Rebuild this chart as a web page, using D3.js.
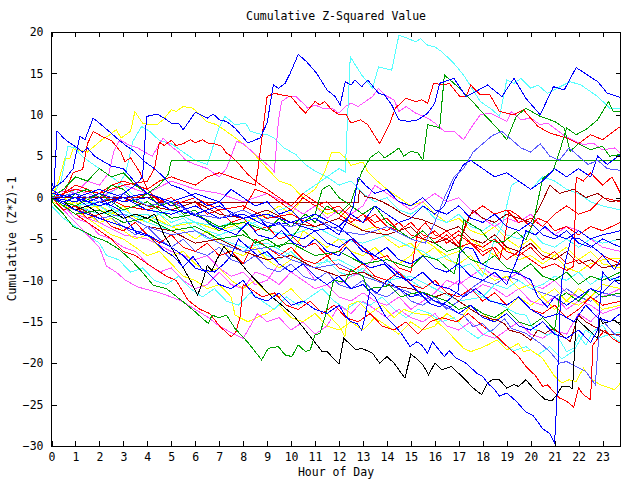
<!DOCTYPE html>
<html><head><meta charset="utf-8">
<script src="https://cdn.jsdelivr.net/npm/d3@7"></script>
<style>
body{margin:0;background:#fff}
text{font-family:"DejaVu Sans Mono",monospace;font-size:11.5px;fill:#000}
</style>
</head><body>
<svg id="chart" width="640" height="480"></svg>
<script>
const chartTitle = "Cumulative Z-Squared Value";
const xLabel = "Hour of Day";
const yLabel = "Cumulative (Z*Z)-1";
const xTicks = d3.range(0, 24);
const yTicks = [-30, -25, -20, -15, -10, -5, 0, 5, 10, 15, 20];

// each series: [hour, cumulative value]
const s01 = [[0,1],[0.5,0],[1,0.5],[1.5,-0.5],[2,0],[2.5,-1],[3,0.5],[3.5,1.5],[3.8,2.5],[3.97,9.8],[4.4,10.1],[4.7,9.6],[5.0,9.0],[5.3,9.0],[5.5,8.2],[6.0,10.3],[6.5,9.6],[6.75,10.1],[7.0,9.4],[7.3,9.2],[7.66,8.4],[8.2,6.6],[8.7,7.2],[9.0,9.0],[9.26,13.6],[9.47,13.2],[9.75,13.8],[9.96,15.0],[10.3,17.3],[10.65,16.4],[11.07,15.0],[11.5,13.0],[11.84,12.2],[12.05,11.2],[12.26,14.0],[12.5,13.6],[12.67,14.2],[12.95,13.4],[13.2,14.2],[13.65,12.6],[13.9,12.4],[14.2,11.2],[14.5,9.4],[14.9,9.2],[15.3,9.4],[15.7,10.2],[16.0,11.4],[16.2,13.8],[16.8,14.4],[17.3,12.2],[17.7,12.8],[18.2,13.6],[18.8,12.2],[19.3,14.4],[19.8,12.0],[20.4,10.0],[20.95,13.4],[21.4,13.0],[21.9,15.7],[22.8,14.0],[23.2,12.6],[23.75,12.1]];
const s02 = [[0,0],[0.5,-0.5],[1,-1.5],[1.5,-1],[2,-1],[2.5,-2],[3,-2.5],[3.5,-2],[4,-2],[4.5,-3],[5,-3.5],[5.5,-3],[6,-3],[6.5,-4],[7,-4.5],[7.5,-4],[8,-3.5],[8.5,-3],[9,-2.5],[9.5,-1.5],[10,-1],[10.5,0.5],[11,1.5],[11.5,2.5],[12.0,3.5],[12.26,3.1],[12.47,17.0],[12.95,14.8],[13.4,13.2],[13.65,15.8],[14.2,15.4],[14.5,19.6],[14.9,19.2],[15.2,18.8],[15.4,19.2],[15.7,18.4],[16.0,18.2],[16.3,17.6],[16.8,16.2],[17.2,14.8],[17.9,11.6],[18.4,10.6],[18.7,9.8],[19.0,14.2],[19.3,13.8],[19.6,14.4],[20.0,13.2],[20.3,13.6],[20.7,12.6],[21.1,13.2],[21.65,14.0],[22.1,13.6],[22.8,12.2],[23.3,10.8],[23.75,10.8]];
const s03 = [[0,0],[0.5,0.5],[1,1.5],[1.5,1],[2,0.5],[2.5,1.5],[3,2],[3.5,1.5],[4,1],[4.5,2],[5,2.5],[5.5,2],[6,1.5],[6.5,2.5],[7,3],[7.5,2.5],[8,2],[8.5,1.5],[8.6,3],[9.0,12.2],[9.3,12.6],[9.6,12.4],[10.0,12.2],[10.4,10.8],[10.6,10.2],[11.0,11.6],[11.2,11.2],[11.4,11.6],[11.7,10.6],[12.0,10.0],[12.3,10.0],[12.5,9.0],[12.9,9.4],[13.2,8.8],[13.7,6.5],[14.1,8.8],[14.35,10.8],[14.8,12.0],[15.2,11.6],[15.45,11.8],[15.7,11.4],[15.95,13.8],[16.4,13.6],[16.6,13.8],[17.05,12.2],[17.3,12.2],[17.5,13.6],[17.9,12.4],[18.3,12.4],[18.7,10.4],[19.3,10.0],[19.7,10.6],[20.3,8.6],[20.8,7.8],[21.5,7.2],[22,6.5],[22.5,7.6],[23,7.0],[23.75,8.6]];
const s04 = [[0,0.5],[0.5,0.3],[0.9,3.0],[1.3,3.4],[1.5,6.5],[1.74,8.0],[2.1,7.4],[2.5,6.9],[2.9,5.5],[3.06,4.35],[3.3,4.8],[3.7,3.0],[4.0,1.0],[4.5,-0.5],[5,0],[5.5,-1],[6,-0.5],[6.5,-2],[7,-1.5],[7.5,-3],[8,-2.5],[8.5,-4],[9,-3.5],[9.5,-5],[10,-4.5],[10.5,-6],[11,-5.5],[11.5,-7],[12,-6.5],[12.5,-5],[13,-6],[13.5,-7.5],[14,-7],[14.5,-8.5],[15,-9],[15.3,-4],[15.6,-3],[16,-4.5],[16.5,-5],[17,-4],[17.5,-5.5],[18,-6],[18.5,-5],[19,-6.5],[19.5,-7],[20,-6],[20.5,-7.5],[21,-6.5],[21.5,-8],[22,-7.5],[22.5,-8.5],[23,-7],[23.75,-8]];
const s05 = [[0,0],[0.3,2],[0.55,4.7],[0.76,4.7],[0.9,5.9],[1.5,5.5],[2.15,7.1],[2.4,7.5],[2.7,8.2],[2.9,7.2],[3.3,8.0],[3.48,10.4],[3.8,9.0],[4.1,8.8],[4.4,8.8],[4.66,9.4],[5.0,10.6],[5.2,10.4],[5.5,11.0],[5.9,10.8],[6.47,9.2],[6.9,8.8],[7.3,8.0],[7.87,6.8],[8.2,6.0],[8.6,4.8],[9.0,3.5],[9.5,2],[10,1.5],[10.5,0],[11,-1],[11.5,-2],[12,-1.5],[12.5,-3],[13,-4],[13.5,-3.5],[14,-5],[14.5,-6],[15,-5.5],[15.5,-7],[16,-6],[16.5,-7.5],[17,-8],[17.5,-7],[18,-9],[18.5,-10],[19,-9.5],[19.5,-11],[20,-10.5],[20.5,-12],[21,-11],[21.5,-12.5],[22,-13],[22.5,-12],[23,-13.5],[23.75,-13]];
const s06 = [[0,0],[0.4,2],[0.69,6.2],[1.0,6.0],[1.2,5.2],[1.5,4.5],[2,3.5],[2.5,2.5],[3,1.5],[3.5,0],[4,-1],[4.5,-2],[5,-3],[5.5,-2.5],[6,-4],[6.5,-5],[7,-4.5],[7.5,-6],[8,-6.5],[8.5,-5.5],[9,-7],[9.5,-7.5],[10,-6.5],[10.5,-8],[11,-8.5],[11.5,-7.5],[12,-9],[12.5,-9.5],[13,-8.5],[13.5,-10],[14,-10.5],[14.5,-9],[15,-10],[15.5,-11],[16,-10],[16.5,-11.5],[17,-12],[17.5,-11],[18,-12],[18.5,-10.5],[19,-11],[19.5,-10],[20,-11],[20.5,-10.5],[21,-9.5],[21.5,-10],[22,-9],[22.5,-10.5],[23,-9.5],[23.75,-10]];
const s07 = [[0,0.5],[0.5,0],[1,1],[1.5,0.5],[2,0],[2.4,0.5],[2.7,1],[3.1,3],[3.4,6.8],[3.76,8.6],[4.1,8.0],[4.5,6.9],[5,6.5],[5.5,5.5],[6,4.5],[6.5,4.0],[7.0,8.5],[7.24,9.8],[7.5,9.2],[7.66,8.8],[8.1,9.0],[8.3,8.0],[8.8,7.6],[9.0,7.6],[9.3,7.2],[9.7,6.0],[10.2,5.2],[10.6,4.0],[11.0,3.2],[11.5,2.5],[12,1.5],[12.5,2],[13,0.5],[13.5,-0.5],[14,0],[14.5,-1.5],[15,-2],[15.5,-1],[16,-2.5],[16.5,-3],[17,-2],[17.5,-3.5],[18,-4],[18.5,-3],[19,-4.5],[19.5,-5],[20,-4],[20.5,-5.5],[21,-6],[21.5,-5],[22,-6],[22.5,-5],[23,-5.5],[23.75,-5]];
const s08 = [[0,2],[0.1,1],[0.23,8.05],[0.5,7.2],[0.76,6.6],[1.04,6.1],[1.3,5.5],[1.5,6],[1.8,5],[2.2,4.3],[2.5,3.8],[3,3.5],[3.3,2.5],[3.6,1.5],[4,0.5],[4.5,0],[5,-1],[5.3,-0.5],[5.8,-2],[6.3,-2.5],[6.8,-3.5],[7.3,-4],[7.7,-4.5],[8.2,-3],[8.6,-4.5],[9.2,-5],[9.6,-4],[10.1,-5.5],[10.6,-6],[11,-5],[11.5,-6.5],[12,-7],[12.3,-6],[12.8,-7.5],[13.3,-8.5],[13.9,-8],[14.4,-9.5],[15,-10],[15.5,-9],[16,-10.5],[16.6,-11],[17.2,-12],[17.7,-11],[18.3,-12.5],[19,-13],[19.5,-12],[20,-13.5],[20.6,-14.5],[21.2,-14],[21.8,-15],[22.3,-13],[22.8,-14.5],[23.3,-15],[23.75,-14]];
const s09 = [[0,1],[0.5,2],[0.9,3.5],[1.18,7.4],[1.4,7.0],[1.74,9.6],[2.0,9.0],[2.4,8.0],[2.8,7.0],[3.1,6.3],[3.5,5.5],[3.9,4.3],[4.3,3.5],[4.6,2.7],[5,1.5],[5.5,1],[6,0],[6.5,-1],[7,-0.5],[7.5,-2],[8,-2.5],[8.5,-2],[9,-3.5],[9.5,-3],[10,-4.5],[10.5,-5],[11,-4],[11.5,-5.5],[12,-6],[12.5,-5],[13,-6.5],[13.5,-7],[14,-6],[14.5,-7.5],[15,-8],[15.5,-7],[16,-8.5],[16.5,-9],[17,-8],[17.5,-9.5],[18,-10],[18.5,-9],[19,-10.5],[19.5,-7],[19.8,-4],[20.2,-4.5],[20.6,-3.5],[21,-4.5],[21.5,-5],[22,-4],[22.5,-5],[23,-4.5],[23.75,-4]];
const s10 = [[0,0],[1,-1],[2,0.5],[3,-1.5],[4,-0.5],[5,-2.5],[6,-2],[7,-3.5],[8,-3],[9,-4],[9.5,-2.5],[10,-3.5],[10.6,-2],[11,-3],[11.5,-1],[12,-2],[12.5,-0.5],[12.95,3.1],[13.3,4.8],[13.65,5.55],[13.9,4.8],[14.2,5.35],[14.5,6.0],[14.7,5.0],[15.0,5.6],[15.3,5.4],[15.5,4.5],[15.7,8.8],[16.0,8.6],[16.2,8.4],[16.4,14.8],[16.8,13.8],[17.3,12.4],[17.7,11.2],[18.2,9.6],[18.6,8.4],[19.0,7.0],[19.4,9.8],[19.8,10.8],[20.4,9.8],[21.0,9.2],[21.4,8.4],[21.65,5.6],[22,6.5],[22.5,5.8],[23,6.2],[23.3,5.0],[23.75,5.2]];
const s11 = [[0,0],[1,-2],[2,-1.5],[3,-3],[4,-2.5],[5,-4],[6,-3.5],[7,-5],[8,-4.5],[9,-6],[10,-5.5],[11,-7],[12,-6.5],[13,-8],[14,-7.5],[15,-8.5],[15.5,-7],[16.1,-7.5],[16.5,-8.5],[16.8,-9.2],[17.05,-6.3],[17.2,-2.7],[17.5,-3.2],[17.9,-3.9],[18.25,-5.1],[18.6,-5.4],[18.9,-5.3],[19.4,-4.1],[19.8,-5.1],[20.1,-3.1],[20.5,2.3],[20.95,3.3],[21.2,5.5],[21.5,8.4],[21.9,7.6],[22.3,8.2],[22.8,9.4],[23.25,11.6],[23.45,10.4],[23.75,10.4]];
const s12 = [[0,0],[0.5,1],[1,0.5],[1.5,2],[2,1.5],[2.4,3],[2.6,5.6],[2.86,7.0],[3.2,6.4],[3.6,6.0],[4.2,5.0],[4.66,7.2],[4.9,6.4],[5.3,5.5],[5.6,4.5],[6,4],[6.5,3.5],[7,2.5],[7.3,3.5],[7.73,6.8],[8.0,6.5],[8.4,5.5],[8.8,4.5],[9.2,3.5],[9.3,3.1],[9.47,9.2],[9.6,11.6],[9.9,12.2],[10.2,12.2],[10.5,11.4],[10.7,10.8],[11.0,11.2],[11.3,10.8],[11.7,10.8],[12.0,10.2],[12.26,11],[12.5,11.4],[12.8,11],[13.4,12.2],[13.65,13.2],[13.9,12.4],[14.3,11.8],[14.5,10.4],[14.8,11.0],[15.2,10.2],[15.7,9.6],[16,9.0],[16.4,8.0],[16.8,8.0],[17.2,7.0],[17.6,8.8],[17.9,10.0],[18.3,10.2],[18.6,9.8],[19.0,9.2],[19.2,10.4],[19.6,9.4],[20.0,9.6],[20.4,8.8],[20.7,9.0],[21.4,7.5],[21.8,6.9],[22.2,6.4],[22.6,6.6],[23.0,5.75],[23.5,6.0],[23.75,5.35]];
const s13 = [[0,0],[4.45,0],[4.46,-0.55],[12.8,-0.55],[12.85,0.9],[13.1,0.1],[13.5,-0.1],[13.8,-0.5],[14.2,-1.1],[14.6,-1.9],[14.9,-2.3],[15.5,-2.7],[16.0,-3.3],[16.5,-4],[17,-3.5],[17.5,-5],[18,-5.5],[18.5,-4.5],[19,-6],[19.5,-6.5],[20,-5.5],[20.5,-7],[21,-7.5],[21.5,-6.5],[22,-8],[22.5,-7.5],[23,-8.5],[23.75,-8]];
const s14 = [[0,0],[0.5,-1],[1,0.5],[1.5,1],[2,0],[2.5,1.5],[3,1],[3.5,-0.5],[4,0.5],[4.5,1.5],[4.87,2.8],[5.0,4.46],[23.75,4.46]];
const s15 = [[0,0],[0.5,-0.5],[1,0],[1.5,-1],[2,-0.5],[2.5,-1],[2.85,-1.5],[3.2,-3],[3.55,-4.3],[4.1,-4.7],[4.66,-6.3],[5.1,-7.1],[5.5,-8.4],[5.9,-7.1],[6.3,-8.7],[6.8,-9],[7.2,-8],[7.5,-7],[7.8,-5],[8.2,-6],[8.6,-7],[9,-6.5],[9.5,-8],[10,-9],[10.5,-8],[11,-9.5],[11.5,-10.5],[12,-9.5],[12.5,-11],[13,-10.5],[13.5,-12],[13.9,-14.2],[14.3,-15.4],[14.6,-16.4],[14.97,-18],[15.25,-17.4],[15.45,-17.8],[15.7,-18.8],[15.9,-17.4],[16.4,-19.2],[16.6,-18.5],[16.9,-19.4],[17.3,-20.0],[17.75,-21.2],[18.0,-21.6],[18.2,-22.4],[18.5,-23.2],[18.7,-24.0],[19.0,-23.6],[19.4,-24.6],[19.8,-25.9],[20.1,-26.3],[20.5,-27.9],[20.8,-28.5],[21.0,-29.6],[21.1,-24.0],[21.2,-15],[21.3,-10],[21.5,-7.1],[21.7,-4.9],[22.0,-4.9],[22.2,-5.3],[22.6,-6],[23.0,-6.9],[23.5,-8.7],[23.75,-7.5]];
const s16 = [[0,0],[0.5,-0.5],[1,-1.5],[1.5,-1],[2,-2],[2.5,-1.5],[3,-2.5],[3.5,-2],[4,-2.5],[4.3,-2],[4.7,-4.5],[5.1,-6.5],[5.5,-8.5],[5.8,-10],[6.1,-11.8],[6.3,-10.2],[6.5,-8.2],[6.7,-8.8],[6.9,-7.5],[7.2,-5.9],[7.5,-7],[7.7,-7.2],[8.2,-9],[8.7,-10.5],[9.2,-12],[9.7,-13.2],[10.1,-14.2],[10.86,-17.0],[11.3,-18.6],[11.5,-18.6],[12.0,-20.1],[12.2,-17.0],[12.5,-17.8],[12.7,-18.4],[12.95,-18.2],[13.4,-18.8],[13.7,-20.0],[14.0,-19.2],[14.3,-20.0],[14.75,-21.8],[15.0,-18.9],[15.3,-19.6],[15.5,-20.2],[15.74,-21.4],[16.0,-20.0],[16.3,-20.8],[16.7,-20.4],[17.2,-21.8],[17.6,-23.0],[17.95,-23.8],[18.2,-22.4],[18.4,-22.0],[18.7,-22.0],[19.0,-23.0],[19.3,-22.6],[19.5,-22.8],[19.8,-22.0],[20.1,-23.0],[20.6,-24.4],[20.9,-24.5],[21.1,-23.8],[21.3,-22.8],[21.6,-22.8],[21.75,-23.1],[21.9,-14.6],[22.35,-15.8],[22.8,-17.0],[22.9,-14.5],[23.0,-15.2],[23.5,-14.8],[23.75,-15.4]];
const s17 = [[0,0],[0.07,-0.7],[0.5,-2],[0.9,-3.5],[1.3,-4],[1.74,-4.7],[2.3,-5.3],[2.85,-6.3],[3.3,-7.5],[3.7,-8.7],[4.25,-10.6],[4.8,-11],[5.5,-12.6],[6.0,-13.8],[6.3,-14.6],[6.55,-15.2],[6.7,-14.2],[7.0,-14.5],[7.3,-14.2],[7.66,-15.8],[8.2,-17.5],[8.77,-19.6],[9.05,-18.2],[9.47,-18.0],[9.75,-19.0],[10.03,-19.2],[10.3,-17.8],[10.6,-18.6],[10.8,-18.4],[11.0,-16.6],[11.2,-16.4],[11.42,-14.4],[11.77,-10.0],[12.26,-10.2],[12.5,-8.7],[13.0,-9.5],[13.2,-11.2],[13.5,-10.8],[13.8,-10.8],[14.1,-10.6],[14.6,-12.0],[15.0,-11.6],[15.5,-11.4],[16.0,-12],[16.5,-12.5],[17,-13.5],[17.5,-13],[18,-14],[18.5,-14.5],[19,-13.5],[19.5,-15],[20,-15.5],[20.5,-14.5],[21,-16],[21.2,-12],[21.5,-11.5],[22,-12.5],[22.5,-11],[23,-12],[23.75,-11.5]];
const s18 = [[0,0],[0.5,-1.5],[1,-3],[1.5,-4.5],[2,-6],[2.3,-8.3],[2.7,-9],[3.1,-10],[3.6,-10.8],[4.4,-11.4],[5,-12],[5.5,-12.6],[6,-13.5],[6.5,-14.4],[7,-15.5],[7.5,-16.3],[8,-17],[8.3,-15.5],[8.6,-14],[9,-15],[9.5,-14.5],[10,-16],[10.5,-15],[11,-16.5],[11.5,-15.5],[12,-13],[12.5,-14],[13,-12.5],[13.5,-13.5],[14,-14.5],[14.5,-13.5],[15,-14.5],[15.5,-15],[16,-14],[16.5,-15.5],[17,-16],[17.5,-15],[18,-16.5],[18.5,-17],[19,-16],[19.5,-15],[20,-16.5],[20.5,-17],[21,-16],[21.5,-16.5],[22,-14],[22.5,-15],[23,-13.5],[23.75,-13]];
const s19 = [[0,0],[0.5,-1],[1,-2],[1.5,-3],[2,-4],[2.5,-5],[3,-6.5],[3.5,-7],[4,-8],[4.8,-9.5],[5.2,-10],[5.7,-12.4],[6.2,-13.5],[6.6,-14],[7.04,-15.6],[7.5,-16.8],[7.7,-16.2],[7.87,-14.4],[8.0,-10.5],[8.3,-11],[8.8,-12],[9.3,-11.5],[9.8,-13],[10.3,-13.5],[10.8,-12.5],[11.3,-14],[11.8,-13],[12.3,-14.5],[12.8,-15],[13.3,-14],[13.8,-15.5],[14.3,-16],[14.8,-15],[15.3,-16.5],[15.8,-15],[16.3,-14.5],[16.9,-15],[17.4,-14],[18,-15.5],[18.6,-16.8],[19.1,-18.2],[19.5,-19.2],[19.8,-20.4],[20.2,-21.5],[20.5,-22.8],[20.7,-22.6],[21.2,-24.2],[21.5,-24.6],[21.8,-25.3],[22.0,-23.0],[22.2,-23.8],[22.5,-24.4],[22.6,-17.8],[22.8,-17.0],[23.1,-16.0],[23.4,-17],[23.75,-17.6]];
const s20 = [[0,0],[0.5,-1],[1,-0.5],[1.5,-2],[2,-3],[2.5,-2.5],[3,-4],[3.5,-5],[4,-4.5],[4.5,-6],[5,-7],[5.5,-6.5],[6,-8],[6.5,-9],[7,-8.5],[7.5,-10],[8,-11],[8.5,-10],[9,-11.5],[9.5,-12],[10,-11],[10.5,-12.5],[11,-13.5],[11.5,-14],[12,-15.5],[12.25,-16.8],[12.4,-13],[12.8,-12.5],[13.3,-14],[13.8,-13],[14.3,-14.5],[14.7,-13.5],[15.2,-14],[15.8,-14.2],[16.4,-15.8],[17.2,-18.2],[17.5,-18.6],[17.9,-18.2],[18.2,-17.8],[18.6,-17.2],[19.0,-18.4],[19.5,-17.6],[19.7,-18.6],[20.0,-18.4],[20.5,-19.4],[20.95,-21.4],[21.3,-22.4],[21.6,-22.0],[21.9,-22.2],[22.2,-20.6],[22.5,-21.8],[22.9,-22.6],[23.3,-23.0],[23.5,-23.2],[23.75,-22.4]];
const s21 = [[0,0],[1,-1.5],[2,-2.5],[3,-2],[4,-3.5],[5,-4.5],[6,-4],[7,-5.5],[8,-6.5],[9,-6],[10,-7.5],[11,-8.5],[12,-8],[13,-9.5],[14,-10.5],[15,-11.5],[16,-12.5],[17,-14],[17.2,-14.2],[17.6,-15.6],[18.0,-15.2],[18.3,-16.2],[18.5,-15.8],[18.9,-14.6],[19.2,-15.8],[19.8,-16.4],[20.4,-17.6],[20.8,-18.6],[21.2,-20.0],[21.5,-19.8],[21.9,-20.4],[22.3,-21.0],[22.7,-22.6],[22.9,-14.5],[23.2,-15.5],[23.5,-16.5],[23.75,-16.8]];
const s22 = [[0,0],[1,-1],[2,-2.5],[3,-2],[4,-3.5],[5,-4],[6,-5.5],[7,-5],[8,-6.5],[9,-7.5],[10,-7],[11,-8.5],[12,-9.5],[13,-9],[14,-10.5],[15,-11],[16,-12],[16.5,-11.5],[17,-12.5],[17.5,-13.5],[17.9,-14.2],[18.3,-14.6],[18.6,-14.8],[18.9,-15.2],[19.1,-16.0],[19.6,-16.4],[20.0,-17.2],[20.3,-16.0],[20.6,-16.4],[20.95,-15.8],[21.3,-16.6],[21.65,-17.4],[21.8,-16],[22,-14.2],[22.3,-15],[22.8,-15.8],[23.3,-16.6],[23.75,-16.5]];
const s23 = [[0,0],[1,-1],[2,-2],[3,-1.5],[4,-3],[5,-4],[6,-3.5],[7,-5],[8,-6],[9,-5.5],[10,-7],[11,-8],[12,-7.5],[13,-9],[14,-10],[15,-9.5],[16,-11],[17,-12.5],[18,-12],[18.8,-13],[19.4,-14],[19.8,-14.2],[20.1,-15.8],[20.7,-16.6],[21.0,-16.2],[21.5,-18.6],[21.8,-18.2],[22.0,-16.6],[22.3,-17.8],[22.6,-16.2],[23.0,-15.4],[23.3,-16.6],[23.75,-16.2]];
const s24 = [[0,0],[0.5,-1],[1,-2.5],[1.5,-3],[2,-4.5],[2.5,-5],[3,-6],[3.5,-6.5],[4,-8],[4.5,-9],[5,-8.5],[5.5,-10],[6,-11],[6.5,-10.5],[7,-9],[7.5,-10.5],[8,-11],[8.5,-9],[9,-9.5],[9.5,-10.5],[10,-9],[10.5,-8],[11,-10],[11.5,-9],[12,-10.5],[12.5,-9.5],[13,-9],[13.5,-7],[14,-8],[14.5,-9],[15,-10],[15.5,-9],[16,-10.5],[16.5,-11],[17,-10],[17.5,-11.5],[18,-10.5],[18.5,-11],[19,-12],[19.5,-11],[20,-12.5],[20.5,-13],[21,-12],[21.5,-13.5],[22,-12.5],[22.5,-13],[23,-14],[23.75,-13.2]];
const s25 = [[0,0.5],[0.5,0],[1,-1],[1.5,0],[2,-1.5],[2.5,-2],[3,-1],[3.5,-2.5],[4,-3],[4.5,-2],[5,-3.5],[5.5,-4],[6,-5],[6.5,-4],[7,-5.5],[7.5,-6.5],[8,-7],[8.5,-6],[9,-7.5],[9.5,-8.5],[10,-7.5],[10.5,-4],[11,-5],[11.5,-6],[12,-5],[12.5,-6.5],[13,-7],[13.5,-6],[14,-7.5],[14.5,-8],[15,-7],[15.5,-5],[16,-6],[16.5,-7],[17,-6.5],[17.5,-5],[18,-6],[18.5,-7],[19,-6],[19.5,-7.5],[20,-7],[20.5,-8],[21,-7],[21.5,-8.5],[22,-9],[22.5,-8],[23,-7.5],[23.75,-7.3]];
const s26 = [[0,-0.5],[1,-1.5],[2,-1],[3,-2.5],[4,-2],[5,-3.5],[6,-3],[7,-4],[8,-3],[9,-2],[9.5,-1],[10,-2],[10.5,0],[11,1],[11.4,3.1],[11.7,5.5],[12.0,5.5],[12.3,4.7],[12.5,3.9],[13,4.3],[13.2,3.1],[13.6,2],[14,1],[14.5,0],[15,-1],[15.5,-0.5],[16,-2],[16.5,-3],[17,-2.5],[17.5,-4],[18,-4.5],[18.5,-3.5],[19,-5],[19.5,-6],[20,-5],[20.5,-6.5],[21,-7],[21.5,-6],[22,-7.5],[22.5,-6.5],[23,-8],[23.75,-8.5]];
const s27 = [[0,0],[1,-0.5],[2,0.5],[3,-0.5],[4,0.5],[5,-1],[6,0],[7,-1.5],[8,-1],[9,-2.5],[10,-2],[11,-3.5],[12,-2.5],[12.5,-1],[13,-2],[13.5,-3],[14,-2.5],[14.5,-4],[15,-3.5],[15.5,-5],[16,-5.5],[16.5,-4.5],[17,-6],[17.5,-5.5],[18,-7],[18.5,-6],[19,-7.5],[19.5,-6.5],[20,-7.5],[20.5,-8.5],[21,-8],[21.5,-8.8],[21.8,-8.3],[21.9,2.5],[22.2,2.0],[22.5,3.0],[23,1.5],[23.4,2.5],[23.75,0.5]];
const s28 = [[0,0],[1,-0.5],[2,0.5],[3,-1],[4,-1.5],[5,-0.5],[6,-2],[7,-2.5],[8,-1.5],[8.5,1],[9,0.5],[9.5,-0.5],[10,-1.5],[10.5,0],[11,-1],[11.5,-0.5],[12,-2],[12.5,-3],[13,-2],[13.5,-3.5],[14,-4],[14.5,-3],[15,-4.5],[15.5,-5],[16,-4],[16.5,-5.5],[17,-4.5],[17.5,-5.5],[18,-6.5],[18.4,-6],[18.7,-7.5],[18.9,-5.2],[19.1,-1.5],[19.4,-2],[19.8,-3],[20.0,-3.5],[20.3,-2.5],[20.7,-3],[21.0,-4],[21.5,-3.5],[22,-4.5],[22.5,-3.5],[23,-4],[23.75,-3]];
const s29 = [[0,0],[1,0.5],[2,-0.5],[3,0],[4,-1],[5,-1.5],[6,-0.5],[7,-2],[8,-2.5],[9,-1.5],[10,-3],[11,-3.5],[12,-2.5],[13,-4],[14,-4.5],[15,-3.5],[15.5,-5],[16,-5.5],[16.5,-5],[17,-6],[17.3,-3],[17.6,-1.5],[18,-2.5],[18.5,-3],[19,-2],[19.5,-2.5],[20,-3],[20.4,-1],[20.8,1.5],[21.2,0.5],[21.8,1.0],[22.3,0],[22.8,0.5],[23.3,-0.5],[23.75,-0.3]];
const s30 = [[0,0],[1,-1],[2,-0.5],[3,-2],[4,-2.5],[5,-1.5],[6,-3],[7,-3.5],[8,-2.5],[9,-4],[10,-4.5],[11,-3.5],[12,-5],[13,-5.5],[14,-4.5],[15,-6],[15.5,-6.5],[16,-7.5],[16.5,-7],[17,-8.5],[17.5,-8],[18,-9.5],[18.5,-5],[18.8,-3.5],[19.2,1.5],[19.5,2],[20,1],[20.5,2.5],[21,2],[21.5,1],[22,0.5],[22.5,-0.5],[23,-1],[23.75,-1.5]];
const s31 = [[0,0.5],[1,0],[2,-1],[3,0],[4,-1.5],[5,-2],[6,-1],[7,-2.5],[8,-2],[9,-3.5],[10,-3],[11,-4],[12,-3.5],[13,-6],[14,-8],[15,-10.5],[15.8,-12.8],[16.2,-13.2],[16.6,-12.3],[17.0,-11.2],[17.05,-6.7],[17.3,-6.0],[17.6,-6.2],[17.9,-7.9],[18.3,-8.5],[18.9,-8.9],[19.4,-9.1],[20.0,-9.9],[20.3,-12],[20.7,-13.2],[21.0,-12],[21.5,-13],[22,-12],[22.5,-11],[23,-11.5],[23.5,-10],[23.75,-10.5]];
const s32 = [[0,0],[1,-0.5],[2,0.5],[3,-0.5],[4,0],[5,-1.5],[6,-2],[7,-1],[8,-2.5],[9,-2],[10,-3],[11,-2],[12,-3.5],[12.5,-2],[13,-3],[13.5,-1],[14,-2],[14.5,-3],[15,-2.5],[15.5,-1],[16,-2],[16.4,-1],[16.8,2],[17.2,4],[17.5,4.5],[18,3.5],[18.5,2.5],[19,3],[19.5,2],[20,1],[20.5,2],[21,3.5],[21.5,2.5],[22,3.5],[22.5,2.5],[22.8,5],[23.2,4],[23.75,5.2]];
const s33 = [[0,0],[1,0.5],[2,-0.5],[3,0.5],[4,-1],[5,-0.5],[6,-2],[7,-2.5],[8,-1.5],[9,-3],[10,-3.5],[11,-2.5],[12,-4],[13,-4.5],[14,-3.5],[15,-5],[15.6,-5.5],[16.0,-3],[16.4,0],[16.8,2.5],[17.2,3.5],[17.6,5.5],[18,6.5],[18.4,7.5],[18.8,8],[19.2,7],[19.6,6],[20,5.5],[20.4,6.5],[20.8,5],[21.2,4.5],[21.6,6],[22,5],[22.4,4],[22.8,4.5],[23.2,3.5],[23.75,3.3]];
const s34 = [[0,0],[0.5,-1],[1,-2],[1.5,-1.5],[2,-3],[2.5,-2.5],[3,-3.5],[3.5,-4.5],[4,-3.5],[4.5,-5],[5,-6],[5.5,-5],[6,-6.5],[6.5,-7],[7,-6],[7.5,-7.5],[8,-8],[8.5,-7],[9,-8.5],[9.5,-9],[10,-8],[10.5,-9.5],[11,-10],[11.5,-9],[12,-10.5],[12.5,-11],[13,-10],[13.5,-11.5],[14,-12],[14.5,-11],[15,-12.5],[15.5,-13],[16,-12],[16.5,-13.5],[17,-12.5],[17.5,-11],[18,-10],[18.5,-10.5],[19,-9.5],[19.5,-10],[20,-11],[20.5,-11.5],[21,-12],[21.5,-11],[22,-12],[22.5,-12.5],[23,-11.5],[23.75,-12]];
const s35 = [[0,0],[0.5,-0.5],[1,-1.5],[1.5,-2.5],[2,-3.5],[2.5,-4.5],[3,-5],[3.5,-6],[4,-7],[4.5,-6.5],[5,-8],[5.5,-9.5],[6,-10],[6.5,-11],[7,-10.5],[7.5,-12],[7.66,-14.2],[8.2,-15],[8.77,-14.2],[9,-14],[9.5,-13],[10,-14.5],[10.5,-15],[11,-14],[11.5,-15.5],[12,-16],[12.5,-15],[13,-16],[13.5,-14.5],[14,-15.5],[14.5,-16.5],[15,-15],[15.5,-16],[16,-15.5],[16.5,-14],[17,-15],[17.5,-13],[18,-14],[18.5,-15],[19,-13.5],[19.5,-12],[20,-13],[20.5,-12],[21,-13.5],[21.5,-12.5],[22,-11],[22.5,-12],[23,-10.5],[23.75,-11]];
const s36 = [[0,-1],[0.5,-2.5],[1,-3.5],[1.5,-4.5],[2,-5.5],[2.3,-7],[2.8,-7.5],[3.3,-9],[3.8,-8.5],[4.3,-10],[4.8,-10.5],[5.3,-9.5],[5.8,-11],[6.3,-12],[6.8,-11],[7.3,-12.5],[7.8,-13],[8.3,-11.5],[8.8,-12.5],[9.3,-13.5],[9.8,-12],[10.3,-13],[10.8,-12],[11.3,-11],[11.8,-12.5],[12.3,-13.5],[12.8,-12.5],[13.3,-13],[13.8,-12],[14.3,-13.5],[14.8,-14.5],[15.3,-13.5],[15.8,-14],[16.3,-15],[16.8,-14.5],[17.3,-16],[17.8,-17],[18.3,-16],[18.8,-17.5],[19.3,-18.5],[19.8,-18],[20.3,-19],[20.8,-18],[21.3,-19.5],[21.8,-18.5],[22.3,-16],[22.8,-17],[23.3,-16.5],[23.75,-17.5]];
const s37 = [[0,0],[1,-1.5],[2,-2.5],[3,-3.5],[4,-4.5],[5,-6],[5.5,-7],[6,-8.5],[6.5,-9],[7,-10.5],[7.5,-11],[8,-10],[8.5,-12],[9,-12.5],[9.5,-11.5],[10,-13],[10.5,-12.5],[11,-13.5],[11.5,-14],[12,-13],[12.25,-14.2],[12.5,-15],[12.75,-15.2],[12.95,-16],[13.1,-14.2],[13.3,-11],[13.6,-11.5],[14,-10],[14.5,-11],[15,-12],[15.5,-11.5],[16,-12.5],[16.5,-13],[17,-14],[17.5,-13],[18,-14.5],[18.5,-15],[19,-14],[19.5,-15.5],[20,-16],[20.5,-15],[21,-16.5],[21.5,-17],[22,-16],[22.5,-17.5],[22.8,-16],[23,-9],[23.3,-10],[23.75,-9.5]];
const s38 = [[0,0],[0.5,-1.5],[1,-1],[1.5,-2.5],[2,-2],[2.5,-3.5],[3,-4],[3.5,-3],[4,-4.5],[4.5,-5.5],[5,-4.5],[5.5,-6],[6,-6.5],[6.5,-5.5],[7,-7],[7.5,-6.5],[8,-8],[8.5,-5],[9,-6],[9.5,-7],[10,-6],[10.5,-7.5],[11,-8],[11.5,-7],[12,-8.5],[12.5,-9],[13,-8],[13.5,-9.5],[14,-10],[14.5,-9],[15,-10.5],[15.5,-11],[16,-10],[16.5,-11.5],[17,-12],[17.5,-11],[18,-12.5],[18.5,-11.5],[19,-13],[19.5,-12],[20,-13.5],[20.5,-14],[21,-13],[21.5,-14.5],[22,-13.5],[22.5,-12],[23,-13],[23.75,-12.5]];
const s39 = [[0,0.5],[1,1],[2,0],[3,1.5],[4,0.5],[5,2],[6,1],[7,0.5],[8,-0.5],[9,0.5],[10,-1],[10.5,-2],[11,-1],[11.5,-2.5],[12,-1.5],[12.5,-2],[13,-1],[13.5,1.5],[14,0.5],[14.5,-0.5],[15,-1.5],[15.5,-0.5],[16,0.5],[16.5,-0.5],[17,0],[17.5,-1.5],[18,-2.5],[18.5,-3.5],[19,-2.5],[19.5,-3],[20,-2],[20.5,-3.5],[21,-4.5],[21.5,-3.5],[22,-4],[22.5,-5],[23,-6],[23.75,-6.5]];
const s40 = [[0,0],[1,-2],[2,-3],[3,-4.5],[4,-5],[5,-6.5],[6,-7.5],[6.5,-7],[7,-8.5],[7.5,-9.5],[8,-9],[8.5,-10.5],[9,-10],[9.5,-8],[10,-9],[10.5,-10],[11,-11],[11.5,-10.5],[12,-12],[12.5,-12.5],[13,-11.5],[13.5,-12.5],[14,-13],[14.5,-12],[15,-13.5],[15.5,-12.5],[16,-11.5],[16.5,-10],[17,-10.5],[17.5,-9.5],[18,-8.5],[18.5,-9.5],[19,-10],[19.5,-9],[20,-10.5],[20.5,-11],[21,-10],[21.5,-11.5],[22,-12],[22.5,-11],[23,-12],[23.75,-11]];
const s41 = [[0,0],[0.5,1],[1,2.5],[1.5,2],[2,3.5],[2.5,2.5],[3,3],[3.5,1.5],[4,0.5],[4.5,-1],[5,-0.5],[5.5,-2],[6,-1.5],[6.5,-3],[7,-4],[7.5,-3],[8,-4],[8.5,-5.5],[9,-5],[9.5,-6],[10,-5],[10.5,-3],[11,-2],[11.3,1],[11.6,1.5],[12,0],[12.5,-1],[13,-2],[13.5,-1],[14,-3],[14.5,-4],[15,-5],[15.5,-4],[16,-5.5],[16.5,-6.5],[17,-6],[17.5,-7.5],[18,-8],[18.5,-7],[19,-8.5],[19.5,-9],[20,-8],[20.5,-9.5],[21,-10],[21.5,-9],[22,-10.5],[22.5,-9.5],[23,-10],[23.75,-9]];
const s42 = [[0,0],[1,1],[2,0.5],[3,1.5],[4,2],[4.3,3.5],[4.5,6.7],[4.7,6.3],[5,6.9],[5.2,6.3],[5.5,6.5],[5.8,7.0],[6.0,6.6],[6.3,7.0],[6.5,6.6],[6.8,6.5],[7.1,6.2],[7.3,5.4],[7.5,5.0],[7.87,3.9],[8.2,2.8],[8.6,1.8],[9,1],[9.5,0],[10,-1],[10.5,0.5],[11,-0.5],[11.5,-1.5],[12,-1],[12.5,-2.5],[13,-3],[13.5,-2],[14,-3.5],[14.5,-4],[15,-3],[15.5,-4.5],[16,-5],[16.5,-4],[17,-5.5],[17.5,-2],[18,-1],[18.5,-2],[19,-1.5],[19.5,-3],[20,-2.5],[20.5,-3.5],[21,-2],[21.5,-1],[22,-2],[22.5,-1.5],[23,0],[23.75,-0.5]];
const s43 = [[0,0.5],[1,0],[2,1],[3,0],[4,0.5],[5,-0.5],[6,0.5],[7,-0.5],[7.5,1],[8,0],[8.5,-1],[9,-0.5],[9.5,-2],[10,-1.5],[10.5,-3],[11,-2.5],[11.5,-3.5],[12,-4.5],[12.3,-3],[12.6,-1],[12.8,2.5],[13.1,1.5],[13.5,0.5],[14,1],[14.5,-0.5],[15,-1],[15.5,0],[16,-1.5],[16.5,-2],[17,-1],[17.5,-2.5],[18,-3],[18.5,-2],[19,-3.5],[19.5,-4],[20,-3],[20.5,-4.5],[21,-5],[21.5,-4],[22,-5.5],[22.5,-6],[23,-5],[23.75,-6]];

const seriesList = [s35,s36,s18,s24,s40,s34,s20,s25,s26,s05,s06,s07,s23,s30,s39,s12,s02,s13,s38,s19,s04,s42,s03,s27,s28,s29,s22,s21,s17,s41,s11,s10,s14,s16,s08,s09,s15,s31,s32,s33,s43,s37,s01];

// styles kept apart from data
const palette = {blue:"#0000ff",red:"#ff0000",green:"#00a000",black:"#000000",yellow:"#ffff00",magenta:"#ff55ff",cyan:"#55ffff",slate:"#5a5aff",darkred:"#a00000"};
const seriesColorNames = ["yellow","cyan","magenta","magenta","magenta","slate","yellow","yellow","yellow","yellow","cyan","cyan","cyan","cyan","magenta","magenta","cyan","darkred","red","red","red","red","red","red","red","darkred","darkred","slate","green","green","green","green","green","black","blue","blue","blue","blue","blue","slate","blue","blue","blue"];

const W = 640, H = 480;
const svg = d3.select("#chart");
svg.append("rect").attr("width", W).attr("height", H).attr("fill", "#fff");

const x = d3.scaleLinear().domain([0, 23.75]).range([51.5, 620.5]);
const y = d3.scaleLinear().domain([-30, 20]).range([446, 32]);

svg.append("clipPath").attr("id", "plotclip").append("rect")
  .attr("x", 51.5).attr("y", 32).attr("width", 569).attr("height", 414);

const line = d3.line().x(d => x(d[0])).y(d => y(d[1]));
const lines = svg.append("g").attr("clip-path", "url(#plotclip)");
seriesList.forEach((s, i) => {
  lines.append("path").attr("d", line(s)).attr("fill", "none")
    .attr("stroke", palette[seriesColorNames[i]]).attr("stroke-width", 1)
    .attr("shape-rendering", "crispEdges");
});

function styleAxis(g) {
  g.select(".domain").remove();
  g.selectAll("line").attr("stroke", "#000").attr("shape-rendering", "crispEdges");
  g.selectAll("text").attr("font-family", "DejaVu Sans Mono, monospace").attr("font-size", "11.5px").attr("fill", "#000");
  g.attr("font-family", null).attr("font-size", null);
}

svg.append("g").attr("transform", `translate(0,446)`)
  .call(d3.axisBottom(x).tickValues(xTicks).tickFormat(d3.format("d")).tickSize(-5).tickPadding(7))
  .call(styleAxis);
svg.append("g").attr("transform", `translate(0,32)`)
  .call(d3.axisTop(x).tickValues(xTicks).tickFormat("").tickSize(-5))
  .call(styleAxis);
svg.append("g").attr("transform", `translate(51.5,0)`)
  .call(d3.axisLeft(y).tickValues(yTicks).tickFormat(d3.format("d")).tickSize(-5).tickPadding(8))
  .call(styleAxis);
svg.append("g").attr("transform", `translate(620.5,0)`)
  .call(d3.axisRight(y).tickValues(yTicks).tickFormat("").tickSize(-5))
  .call(styleAxis);

svg.append("rect").attr("x", 51.5).attr("y", 32.5).attr("width", 569).attr("height", 413.5)
  .attr("fill", "none").attr("stroke", "#000").attr("stroke-width", 1).attr("shape-rendering", "crispEdges");

svg.append("text").attr("x", 336).attr("y", 20).attr("text-anchor", "middle").text(chartTitle);
svg.append("text").attr("x", 336).attr("y", 476).attr("text-anchor", "middle").text(xLabel);
svg.append("text").attr("transform", "translate(16,239) rotate(-90)").attr("text-anchor", "middle").text(yLabel);
</script>
</body></html>
